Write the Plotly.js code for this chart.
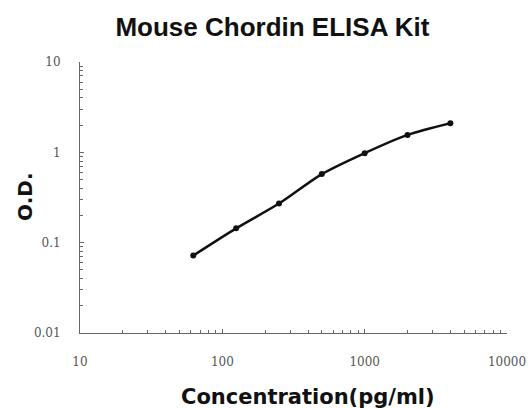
<!DOCTYPE html>
<html>
<head>
<meta charset="utf-8">
<script src="https://cdn.plot.ly/plotly-3.0.1.min.js"></script>
<style>html,body{margin:0;padding:0;background:#fff;}#chart{width:532px;height:409px;}</style>
</head>
<body>
<div id="chart"></div>
<script>
const concentration = [62.5, 125, 250, 500, 1000, 2000, 4000];
const od = [0.072, 0.144, 0.271, 0.574, 0.98, 1.56, 2.1];
const xTickVals = [10, 100, 1000, 10000];
const xTickText = ["10", "100", "1000", "10000"];
const yTickVals = [0.01, 0.1, 1, 10];
const yTickText = ["0.01", "0.1", "1", "10"];

const trace = {
  x: concentration, y: od, type: 'scatter', mode: 'lines+markers',
  line: {color: '#111', width: 2.5, shape: 'spline', smoothing: 0.8},
  marker: {color: '#111', size: 6}
};
const tickFont = {family: 'DejaVu Serif, serif', size: 12, color: '#555'};
const layout = {
  width: 532, height: 409,
  margin: {l: 80, r: 25, t: 62, b: 76},
  paper_bgcolor: '#fff', plot_bgcolor: '#fff',
  showlegend: false,
  title: {text: '<b>Mouse Chordin ELISA Kit</b>', x: 0.512, xanchor: 'center', y: 0.934, yanchor: 'middle',
    font: {family: 'Liberation Sans, Arial, sans-serif', size: 26, color: '#111'}},
  xaxis: {
    type: 'log', range: [1, 4], tickvals: xTickVals, ticktext: xTickText,
    showgrid: false, zeroline: false, showline: true, linecolor: '#666', linewidth: 1,
    ticks: 'inside', ticklen: 4, tickcolor: '#666',
    minor: {ticks: 'inside', ticklen: 3, tickcolor: '#666', dtick: 'D1', showgrid: false},
    tickfont: tickFont, ticklabelstandoff: 18
  },
  yaxis: {
    type: 'log', range: [-2, 1], tickvals: yTickVals, ticktext: yTickText,
    showgrid: false, zeroline: false, showline: true, linecolor: '#666', linewidth: 1,
    ticks: 'inside', ticklen: 4, tickcolor: '#666',
    minor: {ticks: 'inside', ticklen: 3, tickcolor: '#666', dtick: 'D1', showgrid: false},
    tickfont: tickFont, ticklabelstandoff: 16
  },
  annotations: [{
    text: '<b>Concentration(pg/ml)</b>', xref: 'paper', yref: 'paper',
    x: 0.534, y: -0.236, xanchor: 'center', yanchor: 'middle', showarrow: false,
    font: {family: 'DejaVu Sans, sans-serif', size: 21, color: '#111'}
  }, {
    text: '<b>O.D.</b>', xref: 'paper', yref: 'paper', textangle: -90,
    x: -0.129, y: 0.502, xanchor: 'center', yanchor: 'middle', showarrow: false,
    font: {family: 'DejaVu Sans, sans-serif', size: 20, color: '#111'}
  }]
};
Plotly.newPlot('chart', [trace], layout, {displayModeBar: false, staticPlot: true});
</script>
</body>
</html>
